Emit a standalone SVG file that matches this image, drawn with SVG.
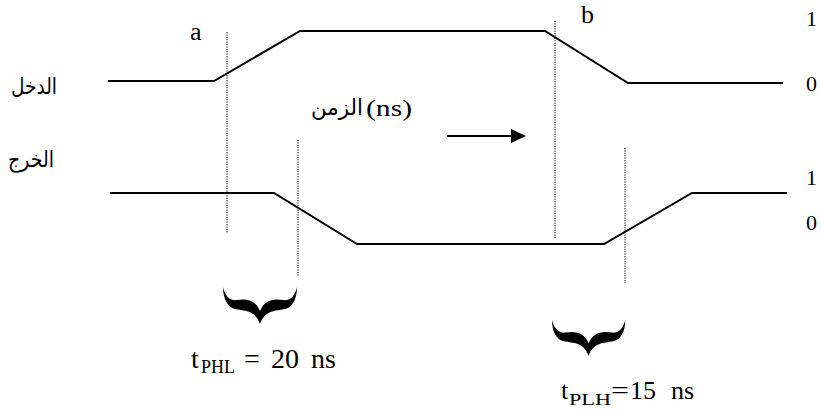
<svg xmlns="http://www.w3.org/2000/svg" width="821" height="410" viewBox="0 0 821 410">
<style>
.sig{fill:none;stroke:#000;stroke-width:2;stroke-linejoin:miter}
.dot{fill:none;stroke:#000;stroke-width:1;stroke-dasharray:1.2,1.2}
.tm{font-family:"Liberation Serif","Times New Roman",serif;fill:#000}
.ar{font-family:"DejaVu Sans","Noto Sans",sans-serif;fill:#000}
.brace{fill:#000}
</style>
<defs>
<marker id="ah" markerUnits="userSpaceOnUse" markerWidth="15" markerHeight="14" refX="1" refY="7" orient="auto">
<path d="M0,0 L15,7 L0,14 Z" fill="#000"/>
</marker>
<path id="br" d="M0,0 C0,11 4,20 12,22 C22,24 32,23 37,37 C42,23 52,24 62,22 C70,20 74,11 74,0 C72,9 67,14 60,13 C49,11 41,14 37,24 C33,14 25,11 14,13 C7,14 2,9 0,0 Z"/>
</defs>

<g id="input-signal">
<path class="sig" d="M108,81 L214,81 L300,31 L545,31 L628,83 L783,83"/>
<text class="ar" x="11" y="94" font-size="22" textLength="46" lengthAdjust="spacingAndGlyphs">الدخل</text>
<text class="tm" x="806" y="26" font-size="22">1</text>
<text class="tm" x="806" y="91" font-size="22">0</text>
</g>

<g id="output-signal">
<path class="sig" d="M110,193 L274,193 L357,244 L604,244 L692,193 L787,193"/>
<text class="ar" x="8" y="167" font-size="22" textLength="46" lengthAdjust="spacingAndGlyphs">الخرج</text>
<text class="tm" x="806" y="185" font-size="22">1</text>
<text class="tm" x="806" y="230" font-size="22">0</text>
</g>

<g id="markers">
<line class="dot" x1="227" y1="32" x2="227" y2="233"/>
<line class="dot" x1="555" y1="21" x2="555" y2="238"/>
<line class="dot" x1="298" y1="140" x2="298" y2="276"/>
<line class="dot" x1="625" y1="148" x2="625" y2="283"/>
<text class="tm" x="190" y="40" font-size="26">a</text>
<text class="tm" x="581" y="23" font-size="26">b</text>
</g>

<g id="time-label">
<text class="ar" x="311" y="115" font-size="22" textLength="52" lengthAdjust="spacingAndGlyphs">الزمن</text>
<text class="tm" x="366" y="116" font-size="23" textLength="46" lengthAdjust="spacingAndGlyphs">(ns)</text>
</g>

<g id="connectors">
<line x1="447" y1="136" x2="512" y2="136" stroke="#000" stroke-width="2" marker-end="url(#ah)"/>
</g>

<g id="tphl">
<use href="#br" class="brace" transform="translate(223,287)"/>
<text class="tm" y="368" font-size="28"><tspan x="191">t</tspan><tspan x="201" y="373" font-size="18" textLength="34" lengthAdjust="spacingAndGlyphs">PHL</tspan><tspan x="244" y="368">=</tspan><tspan x="271">20</tspan><tspan x="311">ns</tspan></text>
</g>

<g id="tplh">
<use href="#br" class="brace" transform="translate(552,320) scale(0.99,0.97)"/>
<text class="tm" y="399" font-size="26"><tspan x="561">t</tspan><tspan x="569" y="405" font-size="17" textLength="42" lengthAdjust="spacingAndGlyphs">PLH</tspan><tspan x="611" y="399" textLength="18" lengthAdjust="spacingAndGlyphs">=</tspan><tspan x="630">15</tspan><tspan x="671">ns</tspan></text>
</g>
</svg>
